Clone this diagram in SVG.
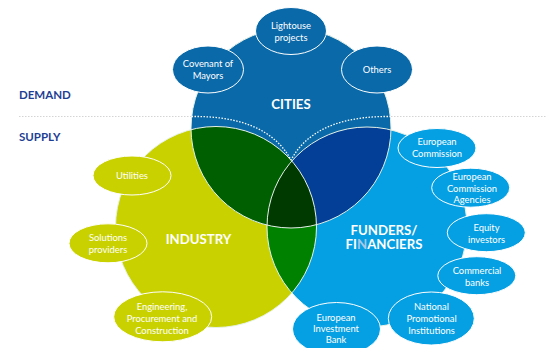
<svg xmlns="http://www.w3.org/2000/svg" width="546" height="348" viewBox="0 0 546 348">
<style>
text{font-family:Lato,"Open Sans","Liberation Sans",sans-serif;text-anchor:middle;fill:#fff}
.t{font-size:9.4px}
.h{font-size:13.200px;font-weight:700}
.side{font-size:11.500px;font-weight:700;fill:#1f3f94;text-anchor:start}
.e{stroke:#fff;stroke-width:1}
.c{fill:#0a69a9}.y{fill:#c9d200}.b{fill:#05a0e3}
.ol{fill:none;stroke:#e6f2e6;stroke-width:1}
</style>
<defs>
<clipPath id="cc"><circle cx="291" cy="128" r="100"/></clipPath>
<clipPath id="ci"><circle cx="216" cy="227" r="100.5"/></clipPath>
</defs>
<rect width="546" height="348" fill="#fff"/>
<g id="connectors">
<line x1="19" y1="116.500" x2="546" y2="116.500" stroke="#d4d4d4" stroke-width="1" stroke-dasharray="1.500 1.500"/>
</g>
<g id="node-industry"><circle class="y" cx="216" cy="227" r="100.500"/></g>
<g id="node-funders"><circle class="b" cx="367" cy="227" r="100"/></g>
<g id="node-cities"><circle class="c" cx="291" cy="128" r="100"/></g>
<g id="overlaps">
<g clip-path="url(#ci)"><circle cx="367" cy="227" r="100" fill="#008200"/></g>
<g clip-path="url(#cc)"><circle cx="216" cy="227" r="100.500" fill="#005f00"/><circle cx="367" cy="227" r="100" fill="#033f97"/></g>
<g clip-path="url(#cc)"><g clip-path="url(#ci)"><circle cx="367" cy="227" r="100" fill="#003a00"/></g></g>
<circle class="ol" cx="216" cy="227" r="100.500"/>
<circle class="ol" cx="367" cy="227" r="100"/>
<circle class="ol" cx="291" cy="128" r="100"/>
</g>
<g id="dotted-boundary" fill="none" stroke="#fff" stroke-width="1.300" stroke-dasharray="1.500 1.500">
<path d="M191.500 116.500C232 116 272 125 291 160"/>
<path d="M391 116.500C350 116 310 125 291 160"/>
</g>
<g id="label-demand"><text class="side" x="19" y="99">DEMAND</text></g>
<g id="label-supply"><text class="side" x="19" y="141">SUPPLY</text></g>
<g id="label-cities"><text class="h" x="291" y="108.500">CITIES</text></g>
<g id="label-industry"><text class="h" x="198.500" y="243.500">INDUSTRY</text></g>
<g id="label-funders"><text class="h"><tspan x="384" y="234.500">FUNDERS/</tspan><tspan x="384" y="248.500">FI<tspan fill="#a9c9e6">N</tspan>ANCIERS</tspan></text></g>
<g id="n-lighthouse"><ellipse class="e c" cx="291" cy="31" rx="35.500" ry="23.500"/><text class="t"><tspan x="291" y="29">Lightouse</tspan><tspan x="291" y="41">projects</tspan></text></g>
<g id="n-covenant"><ellipse class="e c" cx="208" cy="69.500" rx="35.500" ry="23.500"/><text class="t"><tspan x="208" y="67">Covenant of</tspan><tspan x="208" y="79">Mayors</tspan></text></g>
<g id="n-others"><ellipse class="e c" cx="377" cy="69.500" rx="35.500" ry="23.500"/><text class="t" x="377" y="73">Others</text></g>
<g id="n-utilities"><ellipse class="e y" cx="132" cy="175.500" rx="39" ry="19.500"/><text class="t" x="132" y="179">Utilities</text></g>
<g id="n-solutions"><ellipse class="e y" cx="108" cy="243.300" rx="39" ry="19.500"/><text class="t"><tspan x="108" y="241">Solutions</tspan><tspan x="108" y="252.500">providers</tspan></text></g>
<g id="n-engineering"><ellipse class="e y" cx="162.700" cy="316.800" rx="49" ry="25"/><text class="t"><tspan x="162" y="310">Engineering,</tspan><tspan x="162" y="322">Procurement and</tspan><tspan x="162" y="333.500">Construction</tspan></text></g>
<g id="n-ec"><ellipse class="e b" cx="437" cy="148" rx="39" ry="19.500"/><text class="t"><tspan x="437" y="145">European</tspan><tspan x="437" y="157">Commission</tspan></text></g>
<g id="n-eca"><ellipse class="e b" cx="470.700" cy="187.700" rx="39" ry="19.500"/><text class="t"><tspan x="472" y="180">European</tspan><tspan x="472" y="191.500">Commission</tspan><tspan x="472" y="202.500">Agencies</tspan></text></g>
<g id="n-equity"><ellipse class="e b" cx="486.300" cy="232.700" rx="39" ry="19"/><text class="t"><tspan x="486.500" y="231">Equity</tspan><tspan x="486.500" y="242.500">investors</tspan></text></g>
<g id="n-commercial"><ellipse class="e b" cx="476.800" cy="275.700" rx="39" ry="19"/><text class="t"><tspan x="477" y="274">Commercial</tspan><tspan x="477" y="285.500">banks</tspan></text></g>
<g id="n-national"><ellipse class="e b" cx="431.300" cy="318.500" rx="43" ry="26.500"/><text class="t"><tspan x="431.500" y="310">National</tspan><tspan x="431.500" y="322">Promotional</tspan><tspan x="431.500" y="333.500">Institutions</tspan></text></g>
<g id="n-eib"><ellipse class="e b" cx="336.500" cy="329" rx="44" ry="26.500"/><text class="t"><tspan x="336" y="321">European</tspan><tspan x="336" y="332">Investment</tspan><tspan x="336" y="343">Bank</tspan></text></g>
</svg>
